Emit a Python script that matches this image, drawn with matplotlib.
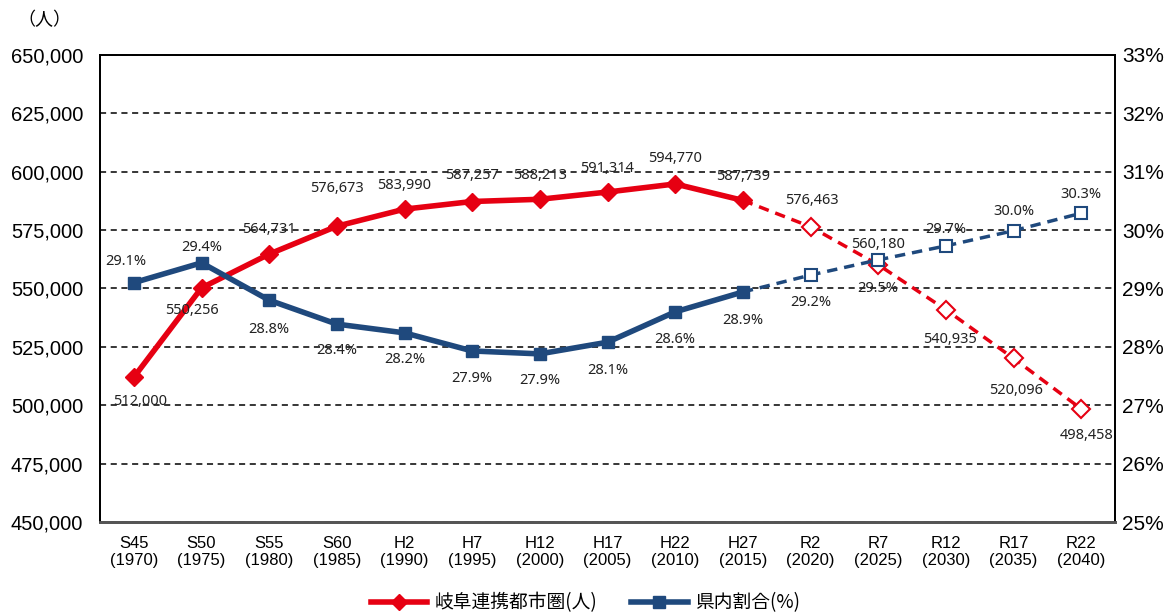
import matplotlib.pyplot as plt
from matplotlib.ticker import FuncFormatter, MultipleLocator

plt.rcParams['font.family'] = ['Liberation Sans', 'Noto Sans CJK JP', 'DejaVu Sans']

periodos = ['S45', 'S50', 'S55', 'S60', 'H2', 'H7', 'H12', 'H17', 'H22', 'H27',
            'R2', 'R7', 'R12', 'R17', 'R22']
anos = [1970, 1975, 1980, 1985, 1990, 1995, 2000, 2005, 2010, 2015,
        2020, 2025, 2030, 2035, 2040]
poblacion = [512000, 550256, 564731, 576673, 583990, 587257, 588213, 591314,
             594770, 587739, 576463, 560180, 540935, 520096, 498458]
ratio = [29.10, 29.44, 28.80, 28.39, 28.24, 27.93, 27.88, 28.08, 28.60, 28.94,
         29.23, 29.49, 29.73, 29.99, 30.29]
n_real = 10  # H27 まで実績

# label offsets (pixels)
off_pob = [(6, -24), (-10, -23), (0, 25), (0, 38), (0, 24), (0, 26), (0, 24), (0, 24),
           (0, 25), (0, 24), (1, 26), (0, 20), (4, -30), (3, -32), (5, -27)]
off_rat = [(-8, 21), (0, 15), (0, -29), (0, -26), (0, -27), (0, -28), (0, -27), (0, -28),
           (0, -28), (0, -28), (0, -27), (0, -29), (0, 16), (0, 19), (0, 19)]

rojo = '#E60012'
azul = '#1F497D'

fig = plt.figure(figsize=(11.71, 6.16), dpi=100)
ax = fig.add_axes([100 / 1171, 1 - 522 / 616, 1015 / 1171, 467 / 616])
ax2 = ax.twinx()

x = list(range(len(periodos)))

# 岐阜連携都市圏
ax.plot(x[:n_real], poblacion[:n_real], color=rojo, lw=4, marker='D', ms=9,
        markerfacecolor=rojo, markeredgecolor=rojo, zorder=3)
ax.plot(x[n_real - 1:], poblacion[n_real - 1:], color=rojo, lw=2.5, ls=(0, (3, 2)), zorder=3)
ax.plot(x[n_real:], poblacion[n_real:], ls='none', marker='D', ms=9,
        markerfacecolor='white', markeredgecolor=rojo, mew=1.5, zorder=4)
for xi, v, (dx, dy) in zip(x, poblacion, off_pob):
    ax.annotate(f'{v:,}', (xi, v), xytext=(dx, dy), textcoords='offset pixels',
                ha='center', va='center', fontsize=10.5, color='#222222',
                family=['Noto Sans', 'DejaVu Sans'], zorder=6)

# 県内割合
ax2.plot(x[:n_real], ratio[:n_real], color=azul, lw=4, marker='s', ms=9,
         markerfacecolor=azul, markeredgecolor=azul, zorder=3)
ax2.plot(x[n_real - 1:], ratio[n_real - 1:], color=azul, lw=2.5, ls=(0, (3, 2)), zorder=3)
ax2.plot(x[n_real:], ratio[n_real:], ls='none', marker='s', ms=9,
         markerfacecolor='white', markeredgecolor=azul, mew=1.5, zorder=4)
for xi, v, (dx, dy) in zip(x, ratio, off_rat):
    ax2.annotate(f'{v:.1f}%', (xi, v), xytext=(dx, dy), textcoords='offset pixels',
                 ha='center', va='center', fontsize=10.5, color='#222222',
                 family=['Noto Sans', 'DejaVu Sans'], zorder=6)

ax.set_xlim(-0.5, len(periodos) - 0.5)
ax.set_ylim(450000, 650000)
ax.yaxis.set_major_locator(MultipleLocator(25000))
ax.yaxis.set_major_formatter(FuncFormatter(lambda v, p: f'{int(v):,}'))
ax.grid(axis='y', color='black', ls=(0, (4, 3)), lw=1.1)
ax.set_axisbelow(True)

ax2.set_ylim(25, 33)
ax2.yaxis.set_major_locator(MultipleLocator(1))
ax2.yaxis.set_major_formatter(FuncFormatter(lambda v, p: f'{int(v)}%'))

ax.set_xticks(x)
ax.set_xticklabels([f'{p}\n({a})' for p, a in zip(periodos, anos)], fontsize=12)
ax.tick_params(axis='x', length=0, pad=10)
ax.tick_params(axis='y', length=0, labelsize=14.5, pad=12)
ax2.tick_params(axis='y', length=0, labelsize=15, pad=5)

for a in (ax, ax2):
    for s in a.spines.values():
        s.set_color('black')
        s.set_linewidth(1.3)
    a.spines['bottom'].set_color('#555555')
    a.spines['bottom'].set_linewidth(2)

ax.set_zorder(ax2.get_zorder() - 1)
ax2.patch.set_visible(False)

fig.text(44 / 1171, 1 - 20 / 616, '（人）', fontsize=13, ha='center', va='center',
         family=['Noto Sans CJK JP'])

h1, = ax.plot([], [], color=rojo, lw=4, marker='D', ms=8, label='岐阜連携都市圏(人)')
h2, = ax.plot([], [], color=azul, lw=4, marker='s', ms=8, label='県内割合(%)')
fig.legend(handles=[h1, h2], loc='center', bbox_to_anchor=(0.5, 1 - 603 / 616), ncol=2,
           frameon=False, prop={'family': 'Noto Sans CJK JP', 'size': 13.5},
           handlelength=3.0, columnspacing=1.8, handletextpad=0.4)

fig.savefig('out.png', dpi=100)
